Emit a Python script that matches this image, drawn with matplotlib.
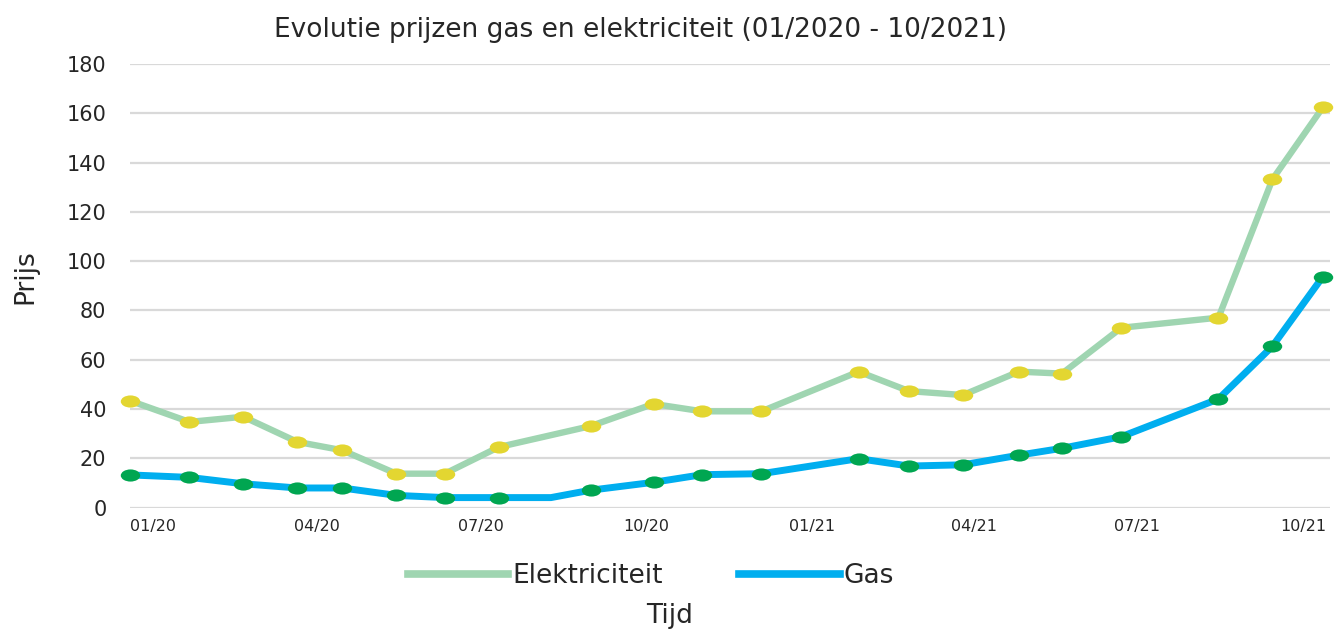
#!/usr/bin/env python3

import numpy as np
import pandas as pd
import matplotlib
matplotlib.use('Agg')
from matplotlib import pyplot as plt
from matplotlib import dates as mdates
from matplotlib.lines import Line2D
from matplotlib.path import Path
from matplotlib.transforms import Affine2D

# gas has one extra (unmarked) point in August 2020
gas_dates = ['2019-12-19', '2020-01-21', '2020-02-20', '2020-03-21', '2020-04-15',
             '2020-05-15', '2020-06-11', '2020-07-11', '2020-08-09', '2020-08-31',
             '2020-10-05', '2020-11-01', '2020-12-04', '2021-01-27', '2021-02-24',
             '2021-03-26', '2021-04-26', '2021-05-20', '2021-06-22', '2021-08-15',
             '2021-09-14', '2021-10-12']
gas = [13.3, 12.3, 9.7, 8.0, 8.0, 5.0, 4.1, 4.1, 4.1, 7.1, 10.3, 13.4, 13.8,
       19.9, 16.9, 17.4, 21.3, 24.1, 28.8, 44.1, 65.5, 93.7]
gas_unmarked = ['2020-08-09']

elec_dates = [d for d in gas_dates if d not in gas_unmarked]
elec = [43.4, 34.8, 36.9, 26.7, 23.3, 13.8, 13.8, 24.6, 33.1, 42.1, 39.1, 39.1,
        55.2, 47.3, 45.7, 55.2, 54.4, 73.0, 77.1, 133.2, 162.4]

tick_dates = ['2020-01-01', '2020-04-01', '2020-07-01', '2020-10-01',
              '2021-01-01', '2021-04-01', '2021-07-01', '2021-10-01']

ELEC_LINE = '#9fd5b1'
ELEC_DOT = '#e3d631'
GAS_LINE = '#00aeef'
GAS_DOT = '#00a651'
TXT = '#262626'


def main():
    plt.rcParams['font.family'] = ['DejaVu Sans']
    fig = plt.figure(figsize=(13.34, 6.34), dpi=100)
    ax = fig.add_axes([130 / 1334, 1 - 507.7 / 634, 1200 / 1334, (507.7 - 64) / 634])

    # squashed circle, the markers in the original are wider than tall
    ellipse = Path.unit_circle().transformed(Affine2D().scale(1.6, 1.0))

    gx = pd.to_datetime(gas_dates)
    ex = pd.to_datetime(elec_dates)
    marked = [i for i, d in enumerate(gas_dates) if d not in gas_unmarked]

    ax.plot(ex, elec, color=ELEC_LINE, lw=4.6, marker=ellipse, ms=14,
            mfc=ELEC_DOT, mec=ELEC_DOT, mew=0, clip_on=False, zorder=3)
    ax.plot(gx, gas, color=GAS_LINE, lw=5, marker=ellipse, ms=14,
            mfc=GAS_DOT, mec=GAS_DOT, mew=0, markevery=marked, clip_on=False,
            zorder=4)

    ax.set_ylim(0, 180)
    ax.set_yticks(np.arange(0, 181, 20))
    ax.set_xlim(pd.Timestamp(gas_dates[0]), pd.Timestamp('2021-10-16'))
    ax.set_xticks(pd.to_datetime(tick_dates))
    ax.xaxis.set_major_formatter(mdates.DateFormatter('%m/%y'))

    ax.grid(axis='y', color='#d9d9d9', lw=1.6)
    ax.set_axisbelow(True)
    for s in ax.spines.values():
        s.set_visible(False)
    ax.tick_params(axis='y', length=0, pad=17, labelsize=15, colors=TXT)
    ax.tick_params(axis='x', length=0, pad=8, labelsize=11.5, colors=TXT)

    ax.set_ylabel('Prijs', fontsize=19, color=TXT)
    ax.yaxis.set_label_coords(-92 / 1200, 0.52)

    fig.text(640 / 1334, 1 - 30 / 634, 'Evolutie prijzen gas en elektriciteit (01/2020 - 10/2021)',
             ha='center', va='center', fontsize=19, color=TXT)
    fig.text(670 / 1334, 1 - 616 / 634, 'Tijd', ha='center', va='center',
             fontsize=19, color=TXT)

    handles = [Line2D([], [], color=ELEC_LINE, lw=5.5),
               Line2D([], [], color=GAS_LINE, lw=5.5)]
    fig.legend(handles, ['Elektriciteit', 'Gas'], loc='center',
               bbox_to_anchor=(651 / 1334, 1 - 576 / 634), ncol=2,
               frameon=False, handlelength=3.8, handletextpad=0.15,
               columnspacing=2.9, prop={'size': 19}, labelcolor=TXT)

    fig.savefig('out.png', dpi=100)


if __name__ == '__main__':
    main()
